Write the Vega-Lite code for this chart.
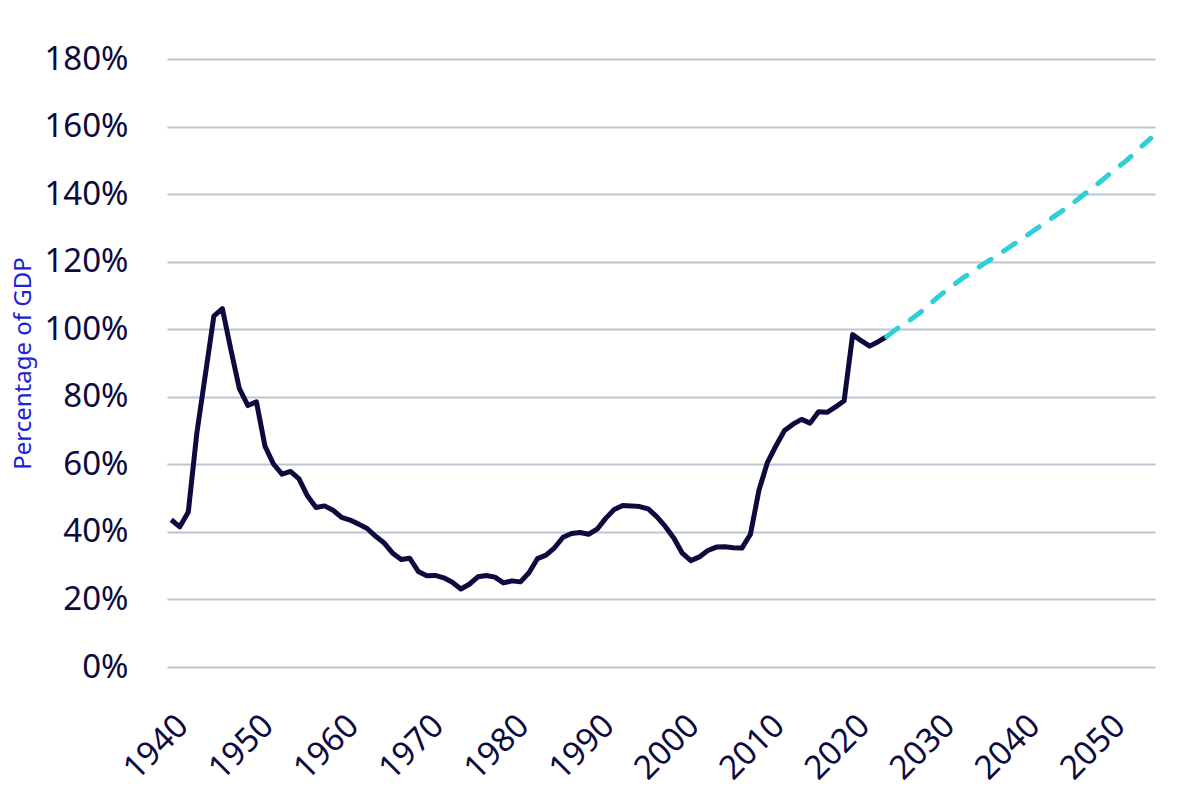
{
  "$schema": "https://vega.github.io/schema/vega-lite/v6.json",
  "autosize": {"type": "none"},
  "width": 988,
  "height": 608,
  "padding": {"left": 167, "top": 59, "right": 45, "bottom": 125},
  "background": "white",
  "config": {
    "view": {"stroke": null},
    "font": "Noto Sans"
  },
  "datasets": {
    "hist": [
      {"year": 1940, "debt": 43.6}, {"year": 1941, "debt": 41.5}, {"year": 1942, "debt": 45.9},
      {"year": 1943, "debt": 69.2}, {"year": 1944, "debt": 86.5}, {"year": 1945, "debt": 103.9},
      {"year": 1946, "debt": 106.1}, {"year": 1947, "debt": 93.9}, {"year": 1948, "debt": 82.4},
      {"year": 1949, "debt": 77.4}, {"year": 1950, "debt": 78.5}, {"year": 1951, "debt": 65.4},
      {"year": 1952, "debt": 60.1}, {"year": 1953, "debt": 57.1}, {"year": 1954, "debt": 57.9},
      {"year": 1955, "debt": 55.7}, {"year": 1956, "debt": 50.6}, {"year": 1957, "debt": 47.2},
      {"year": 1958, "debt": 47.7}, {"year": 1959, "debt": 46.4}, {"year": 1960, "debt": 44.3},
      {"year": 1961, "debt": 43.5}, {"year": 1962, "debt": 42.3}, {"year": 1963, "debt": 41.0},
      {"year": 1964, "debt": 38.7}, {"year": 1965, "debt": 36.7}, {"year": 1966, "debt": 33.7},
      {"year": 1967, "debt": 31.8}, {"year": 1968, "debt": 32.2}, {"year": 1969, "debt": 28.3},
      {"year": 1970, "debt": 27.0}, {"year": 1971, "debt": 27.1}, {"year": 1972, "debt": 26.4},
      {"year": 1973, "debt": 25.1}, {"year": 1974, "debt": 23.1}, {"year": 1975, "debt": 24.5},
      {"year": 1976, "debt": 26.7}, {"year": 1977, "debt": 27.1}, {"year": 1978, "debt": 26.6},
      {"year": 1979, "debt": 24.9}, {"year": 1980, "debt": 25.5}, {"year": 1981, "debt": 25.2},
      {"year": 1982, "debt": 27.9}, {"year": 1983, "debt": 32.1}, {"year": 1984, "debt": 33.1},
      {"year": 1985, "debt": 35.3}, {"year": 1986, "debt": 38.4}, {"year": 1987, "debt": 39.5},
      {"year": 1988, "debt": 39.8}, {"year": 1989, "debt": 39.3}, {"year": 1990, "debt": 40.8},
      {"year": 1991, "debt": 44.0}, {"year": 1992, "debt": 46.6}, {"year": 1993, "debt": 47.8},
      {"year": 1994, "debt": 47.7}, {"year": 1995, "debt": 47.5}, {"year": 1996, "debt": 46.8},
      {"year": 1997, "debt": 44.5}, {"year": 1998, "debt": 41.6}, {"year": 1999, "debt": 38.2},
      {"year": 2000, "debt": 33.7}, {"year": 2001, "debt": 31.5}, {"year": 2002, "debt": 32.6},
      {"year": 2003, "debt": 34.5}, {"year": 2004, "debt": 35.5}, {"year": 2005, "debt": 35.6},
      {"year": 2006, "debt": 35.3}, {"year": 2007, "debt": 35.2}, {"year": 2008, "debt": 39.3},
      {"year": 2009, "debt": 52.3}, {"year": 2010, "debt": 60.6}, {"year": 2011, "debt": 65.5},
      {"year": 2012, "debt": 70.0}, {"year": 2013, "debt": 71.9}, {"year": 2014, "debt": 73.3},
      {"year": 2015, "debt": 72.2}, {"year": 2016, "debt": 75.6}, {"year": 2017, "debt": 75.4},
      {"year": 2018, "debt": 77.0}, {"year": 2019, "debt": 78.8}, {"year": 2020, "debt": 98.4},
      {"year": 2021, "debt": 96.6}, {"year": 2022, "debt": 95.0}, {"year": 2023, "debt": 96.3},
      {"year": 2024, "debt": 97.8}
    ],
    "proj": [
      {"year": 2024, "debt": 97.8}, {"year": 2025, "debt": 99.8}, {"year": 2026, "debt": 101.5},
      {"year": 2027, "debt": 103.2}, {"year": 2028, "debt": 105.1}, {"year": 2029, "debt": 107.3},
      {"year": 2030, "debt": 109.5}, {"year": 2031, "debt": 111.5}, {"year": 2032, "debt": 113.4},
      {"year": 2033, "debt": 115.3}, {"year": 2034, "debt": 116.9}, {"year": 2035, "debt": 118.7},
      {"year": 2036, "debt": 120.3}, {"year": 2037, "debt": 121.9}, {"year": 2038, "debt": 123.6},
      {"year": 2039, "debt": 125.3}, {"year": 2040, "debt": 127.0}, {"year": 2041, "debt": 128.7},
      {"year": 2042, "debt": 130.5}, {"year": 2043, "debt": 132.2}, {"year": 2044, "debt": 134.0},
      {"year": 2045, "debt": 135.7}, {"year": 2046, "debt": 137.6}, {"year": 2047, "debt": 139.6},
      {"year": 2048, "debt": 141.6}, {"year": 2049, "debt": 143.5}, {"year": 2050, "debt": 145.6},
      {"year": 2051, "debt": 147.7}, {"year": 2052, "debt": 149.6}, {"year": 2053, "debt": 151.9},
      {"year": 2054, "debt": 154.3}, {"year": 2055, "debt": 156.5}
    ]
  },
  "encoding": {
    "x": {
      "field": "year",
      "type": "quantitative",
      "scale": {"domain": [1939.5, 2055.5], "nice": false, "zero": false},
      "axis": {
        "values": [1940, 1950, 1960, 1970, 1980, 1990, 2000, 2010, 2020, 2030, 2040, 2050],
        "format": "d",
        "title": null,
        "grid": false,
        "domain": false,
        "ticks": false,
        "labelAngle": -45,
        "labelAlign": "right",
        "labelBaseline": "top",
        "labelPadding": 42,
        "labelDx": -5,
        "labelFontSize": 33,
        "labelColor": "#0c0a3e",
        "labelFont": "Noto Sans",
        "labelFlush": false,
        "labelOverlap": false
      }
    },
    "y": {
      "field": "debt",
      "type": "quantitative",
      "scale": {"domain": [0, 180], "nice": false},
      "axis": {
        "values": [0, 20, 40, 60, 80, 100, 120, 140, 160, 180],
        "labelExpr": "datum.value + '%'",
        "title": "Percentage of GDP",
        "titleColor": "#2020d8",
        "titleFont": "Noto Sans",
        "titleFontSize": 24,
        "titleFontWeight": "normal",
        "titleX": -144,
        "titleY": 304,
        "titleAngle": -90,
        "titleAlign": "center",
        "titleBaseline": "middle",
        "grid": true,
        "gridColor": "#b9c5d1",
        "gridWidth": 2,
        "domain": false,
        "ticks": false,
        "labelPadding": 39,
        "labelFontSize": 33,
        "labelColor": "#0c0a3e",
        "labelFont": "Noto Sans",
        "labelBaseline": "middle",
        "labelFlush": false
      }
    }
  },
  "layer": [
    {
      "data": {"name": "hist"},
      "mark": {"type": "line", "color": "#0c0a3e", "strokeWidth": 5, "strokeJoin": "round"}
    },
    {
      "data": {"name": "proj"},
      "mark": {"type": "line", "color": "#2ecfd6", "strokeWidth": 5, "strokeDash": [14, 15], "strokeCap": "round"}
    }
  ]
}
